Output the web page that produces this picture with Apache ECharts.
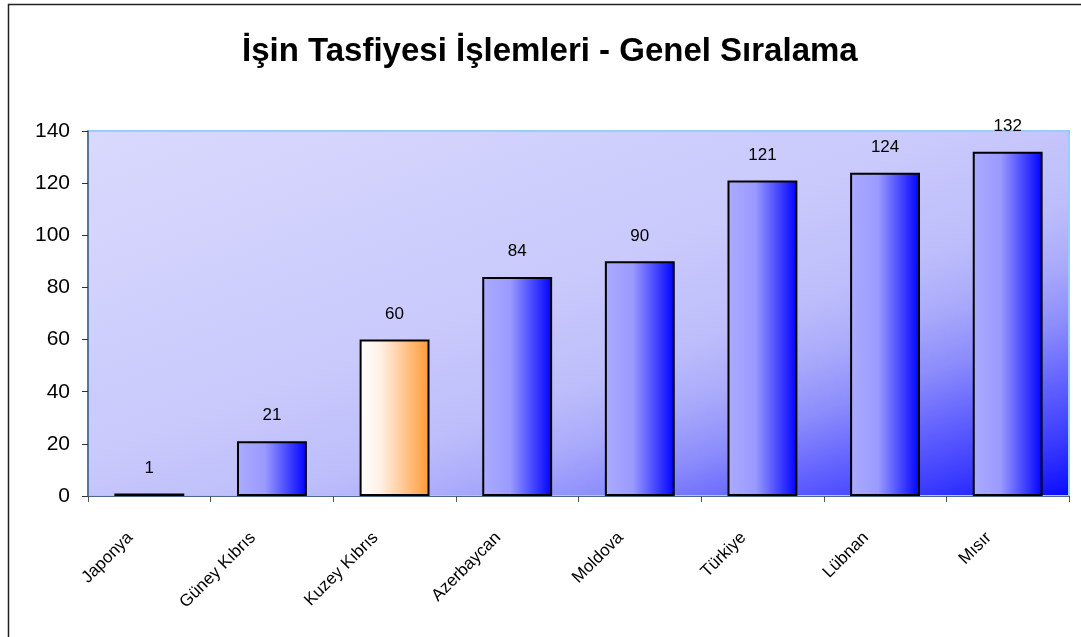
<!DOCTYPE html>
<html>
<head>
<meta charset="utf-8">
<script src="https://cdn.jsdelivr.net/npm/echarts@6/dist/echarts.min.js"></script>
<style>
  html, body { margin: 0; padding: 0; background: #fff; }
  #chart { width: 1081px; height: 637px; }
</style>
</head>
<body>
<div id="chart"></div>
<script>
const countries = ['Japonya', 'Güney Kıbrıs', 'Kuzey Kıbrıs', 'Azerbaycan', 'Moldova', 'Türkiye', 'Lübnan', 'Mısır'];
const values = [1, 21, 60, 84, 90, 121, 124, 132];
const highlighted = 'Kuzey Kıbrıs';
const yTicks = [0, 20, 40, 60, 80, 100, 120, 140];

const font = 'Liberation Sans, Arial, sans-serif';

// plot box in pixels
const plot = { left: 88, top: 131, right: 1069, bottom: 496 };

const blueBar = {
  type: 'linear', x: 0, y: 0, x2: 1, y2: 0,
  colorStops: [
    { offset: 0, color: '#ababff' },
    { offset: 0.4, color: '#9a9aff' },
    { offset: 1, color: '#0000ff' },
  ],
};
const orangeBar = {
  type: 'linear', x: 0, y: 0, x2: 1, y2: 0,
  colorStops: [
    { offset: 0, color: '#ffffff' },
    { offset: 0.3, color: '#fff0e6' },
    { offset: 1, color: '#ff9933' },
  ],
};

// diagonal gradient: isolines run from top-right to bottom-left corner
const pw = plot.right - plot.left, ph = plot.bottom - plot.top;
const len = Math.hypot(pw, ph);
const proj = (2 * pw * ph) / len;
const plotFill = {
  type: 'linear',
  global: true,
  x: plot.left,
  y: plot.top,
  x2: plot.left + proj * ph / len,
  y2: plot.top + proj * pw / len,
  colorStops: [
    { offset: 0, color: '#d9d9fd' },
    { offset: 0.45, color: '#c9c9fc' },
    { offset: 0.6, color: '#bdbdfb' },
    { offset: 0.68, color: '#aaaafb' },
    { offset: 0.76, color: '#8c8cfc' },
    { offset: 0.84, color: '#6262ff' },
    { offset: 0.92, color: '#3a3aff' },
    { offset: 1, color: '#0a0aff' },
  ],
};

const chart = echarts.init(document.getElementById('chart'));
chart.setOption({
  animation: false,
  graphic: [{
    type: 'rect',
    shape: { x: 8.5, y: 4.5, width: 1200, height: 800 },
    style: { fill: 'none', stroke: '#222', lineWidth: 1.5 },
    z: 100,
  }],
  title: {
    text: 'İşin Tasfiyesi İşlemleri - Genel Sıralama',
    left: 237,
    top: 30,
    textStyle: { fontFamily: font, fontSize: 33, fontWeight: 'bold', color: '#000' },
  },
  grid: {
    left: plot.left,
    right: 1081 - plot.right,
    top: plot.top,
    bottom: 637 - plot.bottom,
    show: true,
    borderColor: '#99ccff',
    borderWidth: 2,
    backgroundColor: plotFill,
  },
  xAxis: {
    type: 'category',
    data: countries,
    axisLine: { lineStyle: { color: '#4d6a8a', width: 1 } },
    axisTick: { show: true, length: 6, lineStyle: { color: '#555' } },
    axisLabel: {
      rotate: 45,
      margin: 20,
      padding: [0, 27, 0, 0],
      interval: 0,
      fontFamily: font,
      fontSize: 17,
      color: '#000',
    },
  },
  yAxis: {
    type: 'value',
    min: yTicks[0],
    max: yTicks[yTicks.length - 1],
    interval: 20,
    splitLine: { show: false },
    axisLine: { show: true, lineStyle: { color: '#3b5b80', width: 1.5 } },
    axisTick: { show: true, length: 6, lineStyle: { color: '#333' } },
    axisLabel: { fontFamily: font, fontSize: 21, color: '#000', margin: 18 },
  },
  series: [{
    type: 'bar',
    barWidth: '57%',
    data: countries.map((c, i) => ({
      value: values[i],
      itemStyle: { color: c === highlighted ? orangeBar : blueBar },
    })),
    itemStyle: { borderColor: '#000', borderWidth: 2 },
    label: {
      show: true,
      position: 'top',
      distance: 17,
      fontFamily: font,
      fontSize: 17,
      color: '#000',
    },
  }],
});
</script>
</body>
</html>
